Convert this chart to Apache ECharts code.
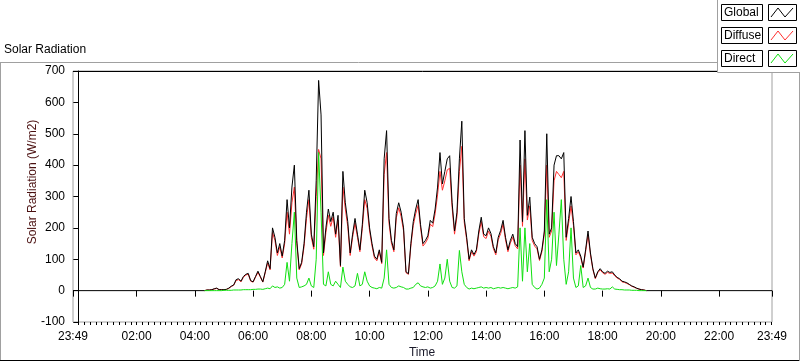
<!DOCTYPE html>
<html><head><meta charset="utf-8">
<script src="https://cdn.jsdelivr.net/npm/echarts@6/dist/echarts.min.js"></script>
<style>html,body{margin:0;padding:0;background:#fff}#c{width:800px;height:361px}</style>
</head><body><div id="c"></div>
<script>
// ---- data ----
const chartTitle = "Solar Radiation";
const seriesNames = ["Global", "Diffuse", "Direct"];
const axisStartMin = -11;   // 23:49 previous day (minutes from midnight)
const axisEndMin = 1429;    // 23:49
const majorTickMin = [-11, 120, 240, 360, 480, 600, 720, 840, 960, 1080, 1200, 1320, 1429];
const sampleStartMin = 260; // 04:20
const sampleStepMin = 5;
const globalVals = [0,2,2,3,6,8,3,3,3,4,8,14,18,35,38,30,45,52,55,32,28,45,62,45,28,60,95,70,200,170,120,150,110,160,290,200,330,400,160,70,90,150,250,320,180,140,350,670,560,120,200,260,220,250,180,240,80,380,280,220,120,180,230,180,130,210,320,280,200,150,110,100,130,90,420,510,230,160,130,246,280,250,200,60,54,150,220,260,290,210,150,160,175,224,215,260,330,440,340,380,420,430,280,190,250,420,540,230,170,100,130,115,130,190,234,180,175,200,182,140,120,170,192,224,170,130,160,180,150,140,480,220,510,240,298,170,150,140,100,130,190,500,180,200,400,430,430,420,440,170,230,300,220,120,130,110,75,130,190,120,70,40,60,70,60,55,62,58,60,50,42,38,30,28,25,20,15,12,8,5,3,2,0];
const diffuseVals = [0,2,2,3,5,7,3,3,3,4,7,13,17,32,35,28,42,50,52,30,27,43,58,43,27,57,88,66,185,160,112,140,104,150,250,180,280,330,150,66,85,140,230,290,170,132,300,450,420,112,185,240,205,235,170,225,76,330,260,205,112,170,215,170,124,198,290,262,190,142,104,95,124,86,370,440,215,152,124,232,264,236,190,57,52,142,208,245,272,200,142,152,166,212,204,245,305,380,320,350,385,390,265,180,236,380,460,218,162,95,124,110,124,180,220,172,166,190,173,134,114,162,182,212,162,124,152,170,143,133,400,205,420,225,270,160,142,133,96,124,180,400,170,190,350,380,370,360,380,160,215,270,208,114,124,105,72,124,178,114,67,38,57,66,57,52,58,55,56,47,40,36,28,26,23,19,14,11,7,5,3,2,0];
const directVals = [0,0,0,0,0,0,0,0,1,1,1,1,2,2,2,2,3,3,3,3,4,4,5,5,4,6,8,6,15,10,12,8,10,20,90,30,150,250,40,10,12,15,20,40,15,10,100,440,250,20,15,60,20,15,30,20,10,75,30,20,12,10,15,55,15,20,60,30,15,10,8,6,10,8,40,130,20,10,8,10,15,12,10,5,5,8,10,20,25,15,12,10,12,8,10,15,30,85,20,40,100,30,10,8,15,128,60,20,10,5,8,6,8,10,12,8,10,8,10,6,8,10,8,10,8,6,8,10,8,12,200,30,200,60,150,20,10,5,8,20,40,290,60,100,250,80,180,290,100,20,60,200,40,10,15,80,10,15,40,10,5,5,8,6,5,5,6,5,12,5,4,3,3,2,2,2,1,1,1,0,0,0,0];
const yMin = -100, yMax = 700, yStep = 100;
const colors = ["#000000", "#ff3030", "#10e010"];

// ---- build ----
function toPairs(vals) { return vals.map((v, i) => [sampleStartMin + i * sampleStepMin, v]); }
const globalData = [[axisStartMin, 0]].concat(toPairs(globalVals)).concat([[axisEndMin, 0]]);
const minorTicks = [];
for (let m = 0; m <= 1428; m += 12) minorTicks.push(m);
function fmt(m) {
  let t = ((m % 1440) + 1440) % 1440;
  const h = Math.floor(t / 60), mm = t % 60;
  return String(h).padStart(2, "0") + ":" + String(mm).padStart(2, "0");
}
const FONT = "Liberation Sans";
const G = {l: 73, r: 772, t: 71, b: 322};

const chart = echarts.init(document.getElementById("c"), null, {renderer: "canvas"});
const legendRows = seriesNames.map((n, k) => {
  const y0 = 4 + k * 23;
  return [
    {type: "rect", shape: {x: 721.5, y: y0 + 0.5, width: 41, height: 16}, style: {fill: "#fff", stroke: "#000", lineWidth: 1}},
    {type: "text", x: 724, y: y0 + 9, style: {text: n, font: "12px " + FONT, fill: "#000", textVerticalAlign: "middle"}},
    {type: "rect", shape: {x: 768.5, y: y0 + 0.5, width: 28, height: 16}, style: {fill: "#fff", stroke: "#000", lineWidth: 1}},
    {type: "polyline", shape: {points: [[771, y0 + 13], [778, y0 + 4], [785, y0 + 13], [793, y0 + 4]]}, style: {stroke: colors[k], lineWidth: 1, fill: null}}
  ];
}).flat();

chart.setOption({
  animation: false,
  backgroundColor: "#fff",
  grid: {left: G.l, right: 800 - G.r, top: G.t, bottom: 361 - G.b, show: true, borderColor: "#a0a0a0", borderWidth: 1, backgroundColor: "#fff"},
  xAxis: [{
    type: "value", min: axisStartMin, max: axisEndMin,
    axisLine: {show: false},
    splitLine: {show: false},
    axisTick: {show: true, customValues: majorTickMin, length: 6, lineStyle: {color: "#000"}},
    axisLabel: {customValues: majorTickMin, formatter: v => fmt(v), margin: 9, color: "#000", fontFamily: FONT, fontSize: 12, showMinLabel: true, showMaxLabel: true}
  }, {
    type: "value", min: axisStartMin, max: axisEndMin, position: "bottom",
    axisLine: {show: false}, splitLine: {show: false},
    axisTick: {show: true, customValues: minorTicks, length: 3, lineStyle: {color: "#000"}},
    axisLabel: {show: false}
  }],
  yAxis: {
    type: "value", min: yMin, max: yMax, interval: yStep,
    axisLine: {show: true, lineStyle: {color: "#000", width: 1}},
    axisTick: {show: true, length: 5, lineStyle: {color: "#000"}},
    splitLine: {show: false},
    axisLabel: {margin: 8, color: "#000", fontFamily: FONT, fontSize: 12}
  },
  series: [
    {name: "Diffuse", type: "line", data: toPairs(diffuseVals), showSymbol: false, lineStyle: {color: colors[1], width: 1}, z: 2},
    {name: "Global", type: "line", data: globalData, showSymbol: false, lineStyle: {color: colors[0], width: 1}, z: 3},
    {name: "Direct", type: "line", data: toPairs(directVals), showSymbol: false, lineStyle: {color: colors[2], width: 1}, z: 4}
  ],
  graphic: [
    {type: "line", shape: {x1: 0, y1: 62.5, x2: 717, y2: 62.5}, style: {stroke: "#a0a0a0", lineWidth: 1}},
    {type: "line", shape: {x1: 0.5, y1: 62, x2: 0.5, y2: 361}, style: {stroke: "#a0a0a0", lineWidth: 1}},
    {type: "line", shape: {x1: 0, y1: 360.5, x2: 800, y2: 360.5}, style: {stroke: "#000", lineWidth: 1}},
    {type: "line", shape: {x1: 799.5, y1: 0, x2: 799.5, y2: 361}, style: {stroke: "#a0a0a0", lineWidth: 1}},
    {type: "line", shape: {x1: G.l, y1: G.t + 0.5, x2: G.r, y2: G.t + 0.5}, style: {stroke: "#000", lineWidth: 1}, z: 10},
    {type: "text", x: 4, y: 50, style: {text: chartTitle, font: "12px " + FONT, fill: "#000", textVerticalAlign: "middle"}},
    {type: "text", x: 33, y: 182, rotation: Math.PI / 2, style: {text: "Solar Radiation (W/m2)", font: "12px " + FONT, fill: "#4a1010", textAlign: "center", textVerticalAlign: "middle"}},
    {type: "text", x: 422, y: 353, style: {text: "Time", font: "12px " + FONT, fill: "#1a1a2a", textAlign: "center", textVerticalAlign: "middle"}},
    {type: "rect", shape: {x: 717.5, y: -1, width: 84, height: 73.5}, style: {fill: "#fff", stroke: "#a0a0a0", lineWidth: 1}, z: 20},
    ...legendRows.map(e => Object.assign(e, {z: 21}))
  ]
});
</script></body></html>
